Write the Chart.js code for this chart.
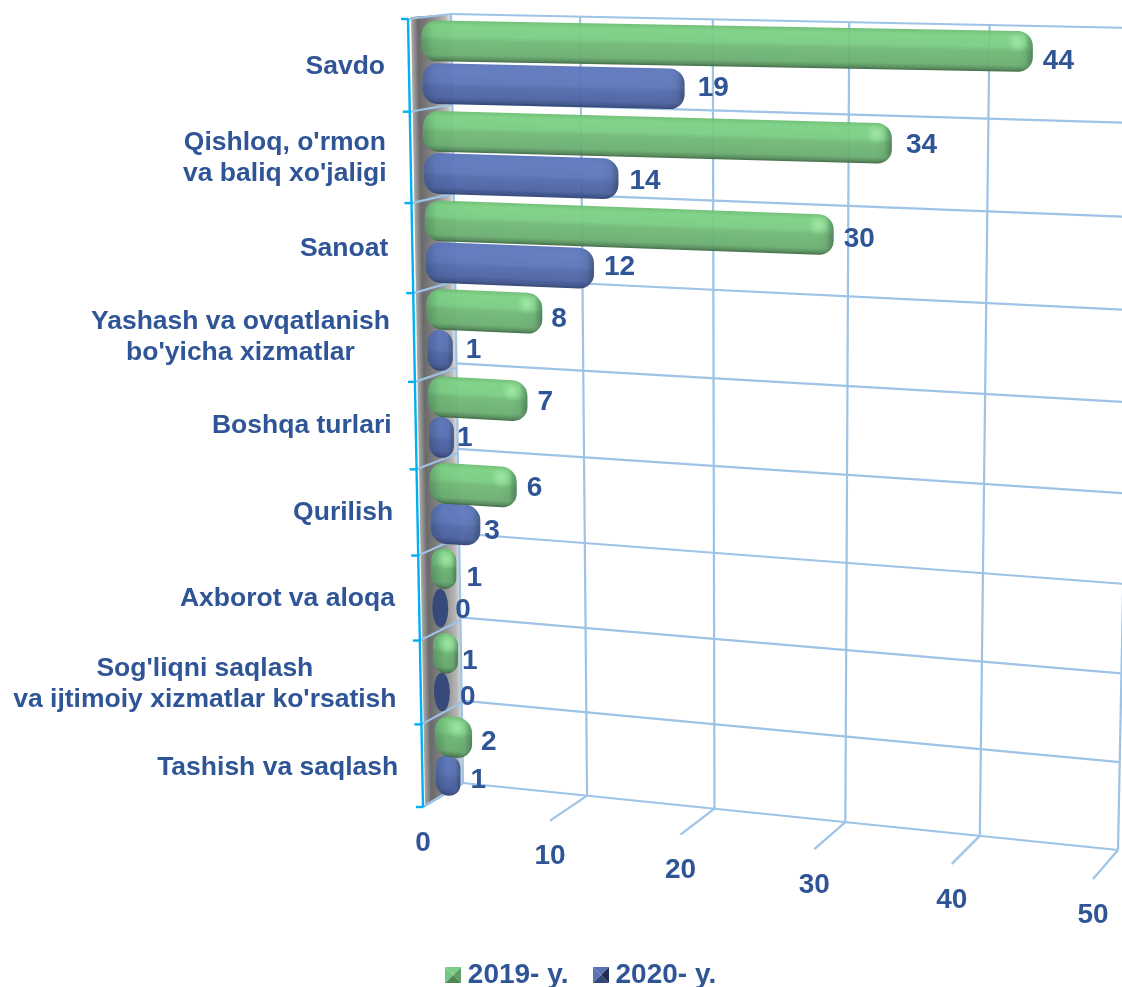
<!DOCTYPE html>
<html>
<head>
<meta charset="utf-8">
<style>
  html, body { margin: 0; padding: 0; background: #fff; }
  canvas { display: block; }
</style>
<script src="https://cdn.jsdelivr.net/npm/chart.js@4"></script>
</head>
<body>
<canvas id="chart" width="1122" height="987"></canvas>
<script>
const categories = [
  ['Savdo'],
  ["Qishloq, o'rmon", "va baliq xo'jaligi"],
  ['Sanoat'],
  ['Yashash va ovqatlanish', "bo'yicha xizmatlar"],
  ['Boshqa turlari'],
  ['Qurilish'],
  ['Axborot va aloqa'],
  ["Sog'liqni saqlash", "va ijtimoiy xizmatlar ko'rsatish"],
  ['Tashish va saqlash'],
];
const values2019 = [44, 34, 30, 8, 7, 6, 1, 1, 2];
const values2020 = [19, 14, 12, 1, 1, 3, 0, 0, 1];
const seriesNames = ['2019- y.', '2020- y.'];
const xMax = 50;
const xStep = 10;

// value labels were placed by hand in the original, so they wander a little
const labelNudge2019 = [[0, 6], [4, -2], [0, 0], [-1, 1], [0, -3], [0, -4], [0, 5], [-6, 3], [-1, 0]];
const labelNudge2020 = [[3, -5], [1, -2], [0, -5], [3, -5], [-7, -4], [-6, 1], [-3, -2], [0, 1], [0, 0]];

const FONT = '"Liberation Sans", Arial, sans-serif';
const TEXT = '#2f5597';
const GRID = '#9dc3e6';
const AXIS = '#00b0f0';

// ── Perspective helpers ───────────────────────────────────
// maps the unit square on to a quad (corners clockwise from top left)
function quad(p0, p1, p2, p3) {
  const dx1 = p1[0] - p2[0], dx2 = p3[0] - p2[0], dx3 = p0[0] - p1[0] + p2[0] - p3[0];
  const dy1 = p1[1] - p2[1], dy2 = p3[1] - p2[1], dy3 = p0[1] - p1[1] + p2[1] - p3[1];
  const den = dx1 * dy2 - dx2 * dy1;
  const g = (dx3 * dy2 - dx2 * dy3) / den;
  const h = (dx1 * dy3 - dx3 * dy1) / den;
  const a = p1[0] - p0[0] + g * p1[0], b = p3[0] - p0[0] + h * p3[0];
  const d = p1[1] - p0[1] + g * p1[1], e = p3[1] - p0[1] + h * p3[1];
  return (u, v) => {
    const w = g * u + h * v + 1;
    return [(a * u + b * v + p0[0]) / w, (d * u + e * v + p0[1]) / w];
  };
}
const backWall = quad([451, 14], [1134, 28], [1118, 850], [463, 783]);
const sideWall = quad([408, 19], [451, 14], [463, 783], [423, 807]);

// bar plane: t is the row position, 0 at the top and 9 at the bottom
const planeY = t => {
  const r = t - 0.5;
  return 62 + r * 86.6 + 8 * (1 - Math.pow((r - 4) / 4, 2));
};
const planeX = t => 422 + (t - 0.5) * 1.65;
const planeSlope = t => 0.018 + 0.009 * (t - 0.27);
// bars further down the chart are further from the viewer
function barLength(v, t) {
  const r = Math.floor(t);
  const scale = Math.max(12.4, 13.96 - 0.2 * r - 0.05 * r * r);
  const offset = Math.min(12.5, -3 + 5.5 * r);
  return Math.max(16, offset + scale * v);
}

function line(ctx, a, b) {
  ctx.beginPath();
  ctx.moveTo(a[0], a[1]);
  ctx.lineTo(b[0], b[1]);
  ctx.stroke();
}

// ── Walls and grid ────────────────────────────────────────
function drawWalls(chart, ctx) {
  const rows = categories.length;
  const ticks = chart.scales.x.ticks.map(t => t.value);

  // grey side wall
  ctx.save();
  ctx.beginPath();
  ctx.moveTo(411, 17); ctx.lineTo(451, 14); ctx.lineTo(463, 783); ctx.lineTo(425, 806);
  ctx.closePath();
  ctx.clip();
  ctx.transform(1, 0, 0.0177, 1, 0, 0);
  const g = ctx.createLinearGradient(410, 0, 451, 0);
  g.addColorStop(0, '#b4b4b4');
  g.addColorStop(0.18, '#6a6a6a');
  g.addColorStop(0.55, '#8a8a8a');
  g.addColorStop(0.85, '#b8b8b8');
  g.addColorStop(1, '#ececec');
  ctx.fillStyle = g;
  ctx.fillRect(380, 0, 90, 820);
  ctx.restore();

  ctx.save();
  ctx.strokeStyle = GRID;
  ctx.lineWidth = 2.2;
  for (let i = 0; i <= rows; i++) {
    const t = i / rows;
    line(ctx, backWall(0, t), backWall(1, t));
    line(ctx, sideWall(0, t), sideWall(1, t));
  }
  ticks.forEach(v => {
    const u = v / xMax;
    const foot = backWall(u, 1);
    line(ctx, backWall(u, 0), foot);
    line(ctx, foot, [foot[0] - 40 + v * 0.3, foot[1] + 24 + v * 0.1]);
  });
  ctx.restore();

  // front axis and its ticks
  ctx.save();
  ctx.strokeStyle = AXIS;
  ctx.lineWidth = 2.4;
  line(ctx, sideWall(0, 0), sideWall(0, 1));
  for (let i = 0; i <= rows; i++) {
    const p = sideWall(0, i / rows);
    line(ctx, [p[0] - 7, p[1]], p);
  }
  ctx.restore();
}

// ── Bars ──────────────────────────────────────────────────
function barGradient(ctx, y0, y1, stops) {
  const g = ctx.createLinearGradient(0, y0, 0, y1);
  stops.forEach(s => g.addColorStop(s[0], s[1]));
  return g;
}
const greenStops = [[0, '#6cbc72'], [0.12, '#7bd184'], [0.38, '#7acc82'], [0.5, '#6fb875'], [0.84, '#6aad70'], [0.94, '#528a58'], [1, '#3a6540']];
const blueStops = [[0, '#5a74b8'], [0.2, '#5e78be'], [0.48, '#5b74b8'], [0.55, '#526bad'], [0.84, '#4b60a0'], [0.94, '#3b4f86'], [1, '#2d3f6e']];

function drawBar(chart, ctx, el, value, stops, highlight) {
  const area = chart.chartArea;
  const rows = categories.length;
  const t = (el.y - area.top) / area.height * rows;
  const h = el.height / area.height * rows * 86.6;
  const x0 = planeX(t);
  const yc = planeY(t);
  const len = barLength(value, t);
  const slope = planeSlope(t);

  ctx.save();
  // shear the row so that it follows the floor of its band
  ctx.transform(1, slope, 0, 1, x0, yc);
  ctx.globalAlpha = 0.95;
  const y0 = -h / 2, y1 = h / 2;

  if (value === 0) {
    ctx.beginPath();
    ctx.ellipse(len / 2, 0, len / 2, h / 2 - 1, 0, 0, Math.PI * 2);
    ctx.fillStyle = '#33477a';
    ctx.fill();
    ctx.restore();
    return [x0 + len, yc + slope * len];
  }

  const r = Math.min(len / 2, 15);
  ctx.beginPath();
  ctx.roundRect(0, y0, len, h, r);
  ctx.fillStyle = barGradient(ctx, y0, y1, stops);
  ctx.fill();
  ctx.clip();

  // left and right ends curve away from the light
  const capL = ctx.createLinearGradient(0, 0, 12, 0);
  capL.addColorStop(0, 'rgba(20,40,40,0.22)');
  capL.addColorStop(1, 'rgba(20,40,40,0)');
  ctx.fillStyle = capL;
  ctx.fillRect(0, y0, 12, h);
  const capW = Math.min(len * 0.5, 18);
  const capR = ctx.createLinearGradient(len - capW, 0, len, 0);
  capR.addColorStop(0, 'rgba(20,40,40,0)');
  capR.addColorStop(0.55, 'rgba(20,40,40,0.06)');
  capR.addColorStop(1, 'rgba(20,40,40,0.4)');
  ctx.fillStyle = capR;
  ctx.fillRect(len - capW, y0, capW, h);

  if (highlight) {
    const hx = len - Math.min(len * 0.4, 15), hy = y0 + 11;
    const spot = ctx.createRadialGradient(hx, hy, 0, hx, hy, 11);
    spot.addColorStop(0, 'rgba(190,255,190,0.55)');
    spot.addColorStop(1, 'rgba(190,255,190,0)');
    ctx.fillStyle = spot;
    ctx.fillRect(hx - 11, hy - 11, 22, 22);
  }
  ctx.restore();
  return [x0 + len, yc + slope * len];
}

// ── Plugin that draws the perspective view ─────────────────
const perspective = {
  id: 'perspective',
  // legend sits lower than its own padding would allow
  afterLayout(chart) {
    chart.legend.top = 929;
    chart.legend.bottom = 987;
  },
  beforeDatasetDraw() { return false; },
  beforeDatasetsDraw(chart) {
    const ctx = chart.ctx;
    drawWalls(chart, ctx);

    const green = chart.getDatasetMeta(0).data;
    const blue = chart.getDatasetMeta(1).data;
    const valueLabels = [];
    categories.forEach((c, i) => {
      const b = drawBar(chart, ctx, blue[i], values2020[i], blueStops, false);
      const g = drawBar(chart, ctx, green[i], values2019[i], greenStops, true);
      valueLabels.push([values2019[i], g, labelNudge2019[i]], [values2020[i], b, labelNudge2020[i]]);
    });

    ctx.save();
    ctx.fillStyle = TEXT;
    ctx.textBaseline = 'middle';
    ctx.textAlign = 'left';
    ctx.font = `bold 28px ${FONT}`;
    valueLabels.forEach(([v, p, n]) => ctx.fillText(String(v), p[0] + 10 + n[0], p[1] + 4 + n[1]));

    // category labels
    ctx.font = `bold 26.5px ${FONT}`;
    ctx.textAlign = 'center';
    categories.forEach((lines, i) => {
      const right = 385 + i * 1.65;
      const yc = planeY(i + 0.5) + 5 + i;
      const w = Math.max(...lines.map(l => ctx.measureText(l).width));
      lines.forEach((l, k) => {
        ctx.fillText(l, right - w / 2, yc + (k - (lines.length - 1) / 2) * 31);
      });
    });

    // value axis labels
    ctx.font = `bold 28px ${FONT}`;
    chart.scales.x.ticks.forEach(t => {
      const foot = backWall(t.value / xMax, 1);
      ctx.fillText(String(t.value), foot[0] - 40 + t.value * 0.3, foot[1] + 24 + t.value * 0.1 + 36);
    });
    ctx.restore();
  },
};

// bevelled legend swatch
function swatch(light, mid, dark, side) {
  const c = document.createElement('canvas');
  c.width = 16; c.height = 16;
  const x = c.getContext('2d');
  const tri = (col, a, b) => {
    x.fillStyle = col;
    x.beginPath();
    x.moveTo(8, 8); x.lineTo(a[0], a[1]); x.lineTo(b[0], b[1]);
    x.closePath();
    x.fill();
  };
  tri(light, [0, 0], [16, 0]);
  tri(mid, [0, 0], [0, 16]);
  tri(dark, [0, 16], [16, 16]);
  tri(side, [16, 0], [16, 16]);
  return c;
}
const swatches = [
  swatch('#7ccf84', '#78c980', '#4f8455', '#5e9c64'),
  swatch('#5a72b6', '#5a72b6', '#33467a', '#202c50'),
];

new Chart(document.getElementById('chart'), {
  type: 'bar',
  data: {
    labels: categories,
    datasets: [
      { label: seriesNames[0], data: values2019, backgroundColor: '#75c27c', pointStyle: swatches[0] },
      { label: seriesNames[1], data: values2020, backgroundColor: '#5a72b6', pointStyle: swatches[1] },
    ],
  },
  options: {
    indexAxis: 'y',
    responsive: false,
    animation: false,
    layout: { padding: { left: 47, top: 19 } },
    datasets: { bar: { categoryPercentage: 0.94, barPercentage: 1 } },
    scales: {
      x: { display: false, min: 0, max: xMax, ticks: { stepSize: xStep } },
      y: { display: false },
    },
    plugins: {
      tooltip: { enabled: false },
      legend: {
        position: 'bottom',
        labels: {
          usePointStyle: true,
          pointStyleWidth: 1,
          padding: 32,
          color: TEXT,
          font: { family: FONT, size: 28, weight: 'bold' },
        },
      },
    },
  },
  plugins: [perspective],
});
</script>
</body>
</html>
